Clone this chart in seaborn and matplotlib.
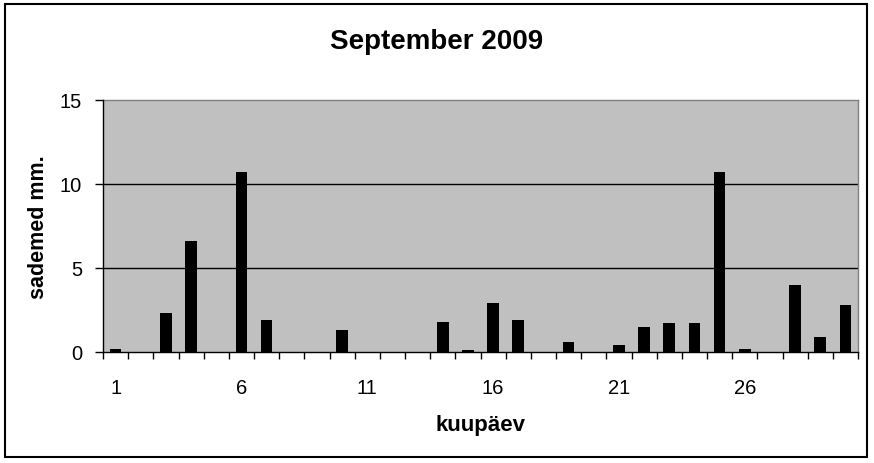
import matplotlib
matplotlib.use("Agg")
import matplotlib.pyplot as plt
import matplotlib.patches as mpatches
import seaborn as sns
import pandas as pd
import numpy as np

# ---- data ----
days = list(range(1, 31))
rain_mm = [0.2, 0.0, 2.3, 6.6, 0.0, 10.7, 1.9, 0.0, 0.0, 1.3,
           0.0, 0.0, 0.0, 1.8, 0.1, 2.9, 1.9, 0.0, 0.6, 0.0,
           0.4, 1.5, 1.7, 1.7, 10.7, 0.2, 0.0, 4.0, 0.9, 2.8]
tick_labels = ["1", "6", "11", "16", "21", "26"]
yticks = [0, 5, 10, 15]

title = "September 2009"
xlabel = "kuupäev"
ylabel = "sademed mm."

sns.set_style("white")
plt.rcParams["font.family"] = ["Liberation Sans", "DejaVu Sans"]
plt.rcParams["text.color"] = "black"
plt.rcParams["axes.labelcolor"] = "black"
plt.rcParams["xtick.color"] = "black"
plt.rcParams["ytick.color"] = "black"

df = pd.DataFrame({"day": [str(d) for d in days], "rain": rain_mm})

W, H = 874, 464
fig = plt.figure(figsize=(W / 100, H / 100), dpi=100)
fig.patch.set_facecolor("white")
ax = fig.add_axes([103 / W, (H - 353) / H, (858 - 103) / W, (353 - 101) / H])
ax.set_facecolor("#C0C0C0")

sns.barplot(data=df, x="day", y="rain", color="black", saturation=1,
            width=0.46, ax=ax, errorbar=None, zorder=3,
            edgecolor="black", linewidth=0)

ax.set_xlim(-0.5, len(days) - 0.5)
ax.set_ylim(0, 15)
ax.set_yticks(yticks)
ax.set_yticklabels([str(v) for v in yticks], fontsize=14.5)
for v in yticks[1:-1]:
    ax.axhline(v, color="black", lw=1.0, zorder=2)

# major ticks: labels at category centers, no marks
label_pos = [days.index(int(t)) for t in tick_labels]
ax.set_xticks(label_pos)
ax.set_xticklabels(tick_labels, fontsize=14.5)
ax.tick_params(axis="x", which="major", length=0, pad=19)
ax.set_xticks(np.arange(-0.5, len(days), 1.0), minor=True)
ax.tick_params(axis="x", which="minor", length=5, width=1, color="black", direction="out", bottom=True)
ax.tick_params(axis="y", which="major", length=6, width=1, color="black", direction="out", left=True, pad=9)

for side in ["left", "bottom"]:
    ax.spines[side].set_color("black")
    ax.spines[side].set_linewidth(1.0)
    ax.spines[side].set_zorder(4)
for side in ["top", "right"]:
    ax.spines[side].set_color("#808080")
    ax.spines[side].set_linewidth(1.0)

ax.set_xlabel(xlabel, fontsize=16, fontweight="bold", labelpad=12, color="black")
ax.set_ylabel(ylabel, fontsize=15.5, fontweight="bold", labelpad=8, color="black")

fig.text(437 / W, 1 - 42 / H, title, fontsize=20, fontweight="bold",
         ha="center", va="center", color="black")

# outer chart border
fig.patches.append(mpatches.Rectangle((5 / W, (H - 458) / H), (867 - 5) / W, (458 - 5) / H,
                                      transform=fig.transFigure, fill=False,
                                      edgecolor="black", linewidth=1.5))

fig.savefig("out.png", dpi=100, facecolor="white")
